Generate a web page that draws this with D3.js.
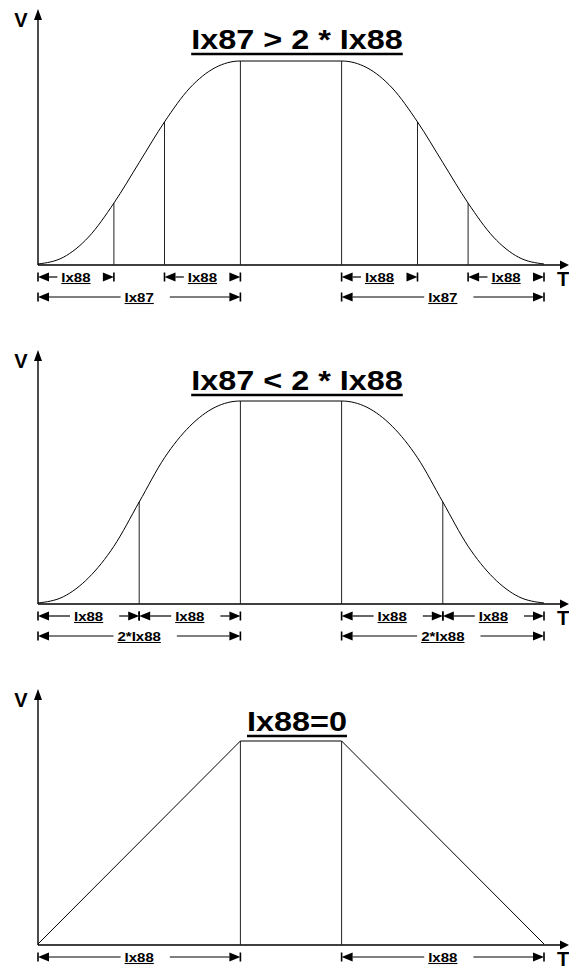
<!DOCTYPE html>
<html>
<head>
<meta charset="utf-8">
<script src="https://cdn.jsdelivr.net/npm/d3@7"></script>
<style>
  body { margin: 0; background: #fff; }
  svg { display: block; }
  text { font-family: "Liberation Sans", Arial, sans-serif; font-weight: bold; fill: #000; }
</style>
</head>
<body>
<div id="chart"></div>
<script>
// time runs 0..100 over the move, velocity 0..1 of max speed

// panel 1 : Ix87 > 2 * Ix88 (S-curve with linear middle part)
var p1Time = [0, 5, 10, 15, 20, 25, 30, 35, 40, 60, 65, 70, 75, 80, 85, 90, 95, 100];
var p1Vel = [0, 0.033, 0.133, 0.30, 0.50, 0.70, 0.867, 0.967, 1, 1, 0.967, 0.867, 0.70, 0.50, 0.30, 0.133, 0.033, 0];
var p1Marks = [15, 25, 40, 60, 75, 85];
var p1Spans = [[0, 15], [25, 40], [60, 75], [85, 100]];
var p1SpanLabels = ["Ix88", "Ix88", "Ix88", "Ix88"];
var p1Totals = [[0, 40], [60, 100]];
var p1TotalLabels = ["Ix87", "Ix87"];

// panel 2 : Ix87 < 2 * Ix88 (pure S-curve)
var p2Time = [0, 5, 10, 15, 20, 25, 30, 35, 40, 60, 65, 70, 75, 80, 85, 90, 95, 100];
var p2Vel = [0, 0.031, 0.125, 0.281, 0.50, 0.719, 0.875, 0.969, 1, 1, 0.969, 0.875, 0.719, 0.50, 0.281, 0.125, 0.031, 0];
var p2Marks = [20, 40, 60, 80];
var p2Spans = [[0, 20], [20, 40], [60, 80], [80, 100]];
var p2SpanLabels = ["Ix88", "Ix88", "Ix88", "Ix88"];
var p2Totals = [[0, 40], [60, 100]];
var p2TotalLabels = ["2*Ix88", "2*Ix88"];

// panel 3 : Ix88=0 (trapezoid)
var p3Time = [0, 40, 60, 100];
var p3Vel = [0, 1, 1, 0];
var p3Marks = [40, 60];
var p3Spans = [[0, 40], [60, 100]];
var p3SpanLabels = ["Ix88", "Ix88"];

var titles = ["Ix87 > 2 * Ix88", "Ix87 < 2 * Ix88", "Ix88=0"];

var W = 569, H = 970;
var svg = d3.select("#chart").append("svg")
    .attr("width", W)
    .attr("height", H);

var x = d3.scaleLinear().domain([0, 100]).range([38, 544]);

function hline(g, xa, xb, yy, sw) {
    if (xb - xa < 1) return;
    g.append("line")
        .attr("x1", xa).attr("x2", xb)
        .attr("y1", yy).attr("y2", yy)
        .attr("stroke", "#000").attr("stroke-width", sw);
}

function dimension(g, t0, t1, yy, label) {
    var x0 = x(t0), x1 = x(t1);
    var a = 11, h = 4.5;

    [x0, x1].forEach(function (xx) {
        g.append("line")
            .attr("x1", xx).attr("x2", xx)
            .attr("y1", yy - 4.5).attr("y2", yy + 4.5)
            .attr("stroke", "#000").attr("stroke-width", 1.6);
    });
    g.append("path")
        .attr("d", "M" + x0 + "," + yy + "L" + (x0 + a) + "," + (yy - h) + "L" + (x0 + a) + "," + (yy + h) + "Z")
        .attr("fill", "#000");
    g.append("path")
        .attr("d", "M" + x1 + "," + yy + "L" + (x1 - a) + "," + (yy - h) + "L" + (x1 - a) + "," + (yy + h) + "Z")
        .attr("fill", "#000");

    // label, the line stops a bit before and well after it
    var cx = (x0 + x1) / 2, sx = 1.25;
    var txt = g.append("text")
        .attr("transform", "translate(" + cx + "," + (yy + 4.5) + ") scale(" + sx + ",1)")
        .attr("text-anchor", "middle")
        .style("font-size", "12px")
        .text(label);
    var w = txt.node().getComputedTextLength() * sx;
    hline(g, x0 + a, cx - w / 2 - 4, yy, 1.2);
    hline(g, cx + w / 2 + 16, x1 - a, yy, 1.2);
    hline(g, cx - w / 2, cx + w / 2, yy + 6.5, 1.1);
}

function drawPanel(p) {
    var g = svg.append("g");
    var y = d3.scaleLinear().domain([0, 1]).range([p.axisY - 1, p.topY]);

    // velocity axis with arrow
    g.append("line")
        .attr("x1", x(0)).attr("x2", x(0))
        .attr("y1", p.axisY).attr("y2", p.tipY + 10)
        .attr("stroke", "#000").attr("stroke-width", 1.4);
    g.append("path")
        .attr("d", "M" + x(0) + "," + p.tipY + "L" + (x(0) - 4) + "," + (p.tipY + 11) + "L" + (x(0) + 4) + "," + (p.tipY + 11) + "Z")
        .attr("fill", "#000");
    g.append("text")
        .attr("x", x(0) - 17).attr("y", p.tipY + 18)
        .attr("text-anchor", "middle")
        .style("font-size", "20px")
        .text("V");

    // time axis with arrow
    var xEnd = x(100) + 25;
    g.append("line")
        .attr("x1", x(0)).attr("x2", xEnd - 8)
        .attr("y1", p.axisY).attr("y2", p.axisY)
        .attr("stroke", "#000").attr("stroke-width", 1.4);
    g.append("path")
        .attr("d", "M" + xEnd + "," + p.axisY + "L" + (xEnd - 9) + "," + (p.axisY - 4.5) + "L" + (xEnd - 9) + "," + (p.axisY + 4.5) + "Z")
        .attr("fill", "#000");
    g.append("text")
        .attr("x", xEnd - 6).attr("y", p.axisY + 21)
        .attr("text-anchor", "middle")
        .style("font-size", "20px")
        .text("T");

    // phase marks
    p.marks.forEach(function (t) {
        var v = p.vel[p.time.indexOf(t)];
        g.append("line")
            .attr("x1", x(t)).attr("x2", x(t))
            .attr("y1", p.axisY).attr("y2", y(v))
            .attr("stroke", "#222").attr("stroke-width", 1);
    });

    // velocity profile
    var pts = p.time.map(function (t, i) { return [t, p.vel[i]]; });
    g.append("path")
        .datum(pts)
        .attr("fill", "none")
        .attr("stroke", "#000")
        .attr("stroke-width", 1)
        .attr("d", d3.line()
            .x(function (d) { return x(d[0]); })
            .y(function (d) { return y(d[1]); })
            .curve(p.smooth ? d3.curveMonotoneX : d3.curveLinear));

    // title
    var sx = 1.2, cx = x(50) + 6;
    var title = g.append("text")
        .attr("transform", "translate(" + cx + "," + p.titleY + ") scale(" + sx + ",1)")
        .attr("text-anchor", "middle")
        .style("font-size", "27px")
        .text(p.title);
    var tw = title.node().getComputedTextLength() * sx;
    hline(g, cx - tw / 2, cx + tw / 2, p.titleY + 5, 2.6);

    // dimension rows
    p.spans.forEach(function (s, i) { dimension(g, s[0], s[1], p.axisY + 12, p.spanLabels[i]); });
    if (p.totals) {
        p.totals.forEach(function (s, i) { dimension(g, s[0], s[1], p.axisY + 32, p.totalLabels[i]); });
    }
}

drawPanel({ title: titles[0], time: p1Time, vel: p1Vel, marks: p1Marks, spans: p1Spans, spanLabels: p1SpanLabels,
    totals: p1Totals, totalLabels: p1TotalLabels, smooth: true,
    axisY: 265, tipY: 9, topY: 61, titleY: 49 });
drawPanel({ title: titles[1], time: p2Time, vel: p2Vel, marks: p2Marks, spans: p2Spans, spanLabels: p2SpanLabels,
    totals: p2Totals, totalLabels: p2TotalLabels, smooth: true,
    axisY: 604, tipY: 350, topY: 401, titleY: 390 });
drawPanel({ title: titles[2], time: p3Time, vel: p3Vel, marks: p3Marks, spans: p3Spans, spanLabels: p3SpanLabels,
    smooth: false,
    axisY: 945, tipY: 689, topY: 741, titleY: 731 });
</script>
</body>
</html>
